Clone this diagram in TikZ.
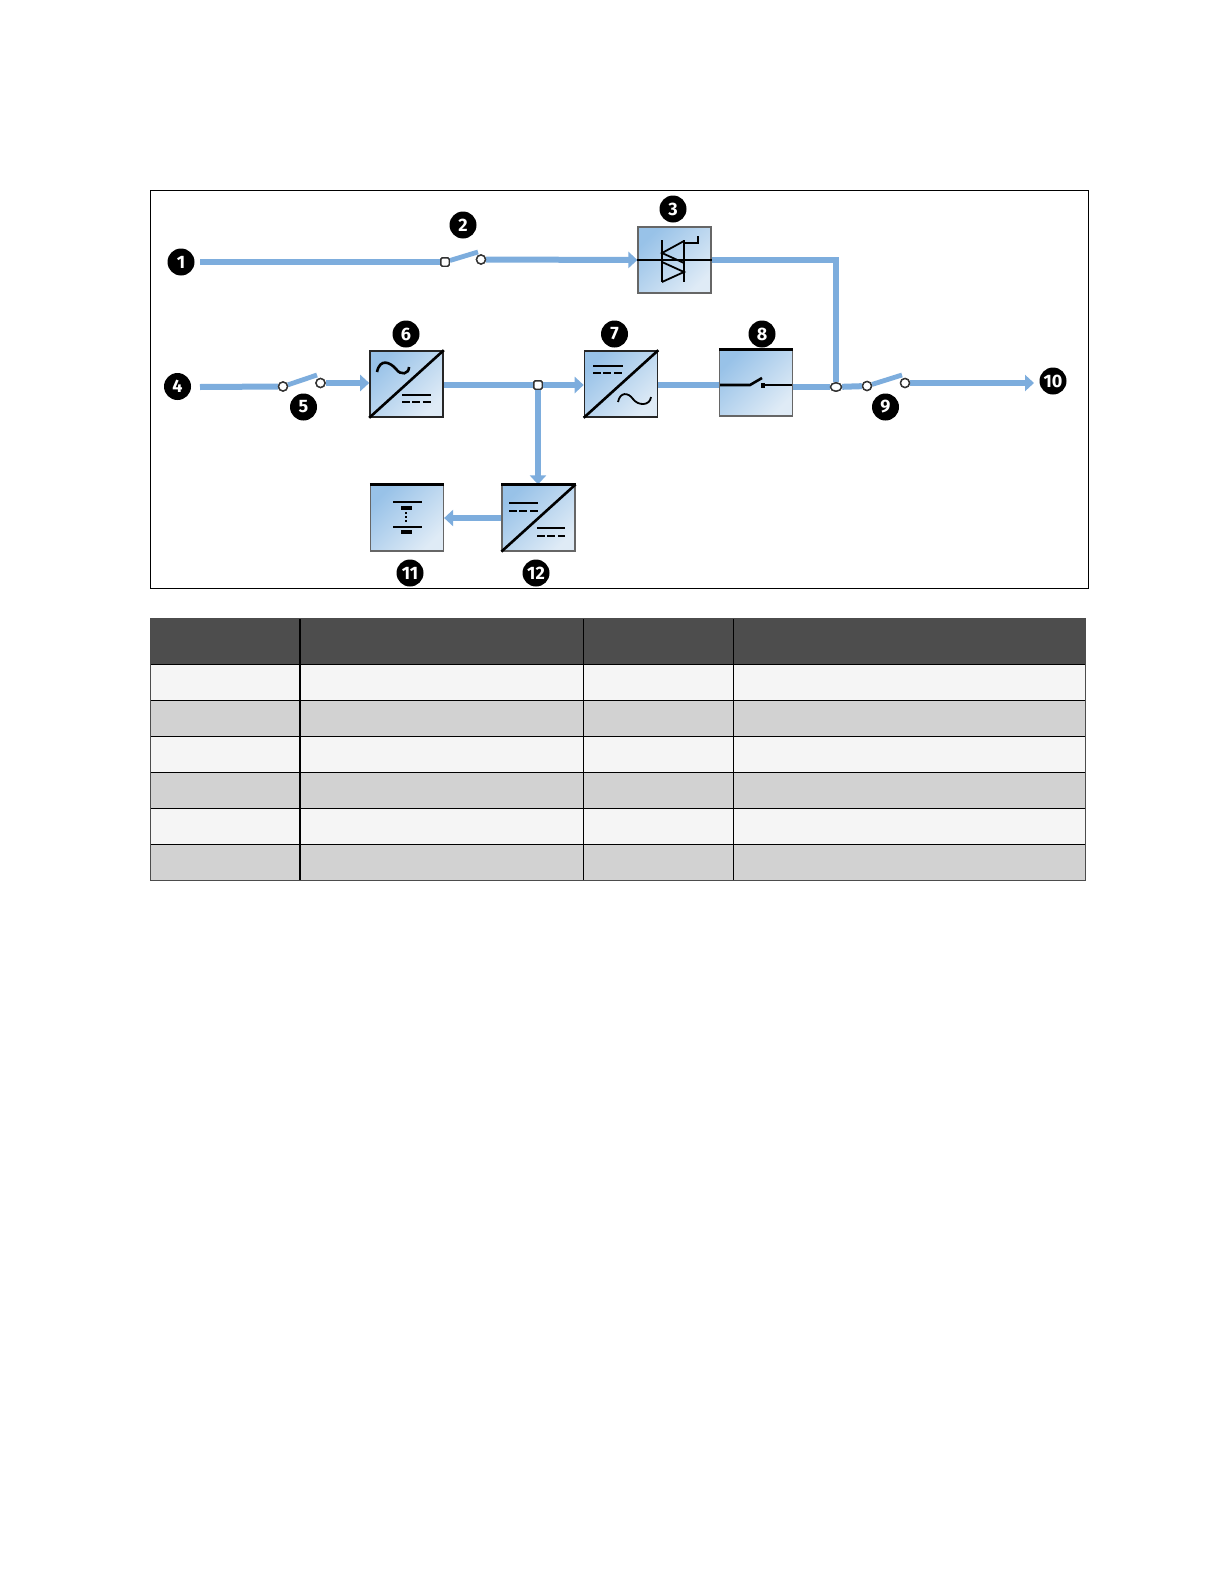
\documentclass[tikz,border=0pt]{standalone}
\usepackage{fontspec}
\setmainfont{Fira Sans}
\usepackage{xcolor}
\usetikzlibrary{arrows.meta, positioning, shapes.geometric}
\definecolor{wire}{HTML}{7DADDD}
\definecolor{boxdark}{HTML}{98C2E8}
\definecolor{boxlight}{HTML}{DFEBF6}
\definecolor{headgrey}{HTML}{4D4D4D}
\definecolor{rowlight}{HTML}{F5F5F5}
\definecolor{rowgrey}{HTML}{D2D2D2}
\tikzset{
  badge/.style={circle,fill=black,text=white,inner sep=0pt,minimum size=13.5pt,font=\fontsize{9}{9}\selectfont\bfseries},
  unit/.style={rectangle,draw=black!85,line width=0.8pt,top color=boxdark,bottom color=boxlight,shading angle=45,inner sep=0pt,minimum width=36.5pt,minimum height=33pt},
  softunit/.style={unit,draw=black!60,line width=0.6pt},
  terminal/.style={circle,draw=black!80,fill=white,line width=0.7pt,inner sep=0pt,minimum size=4.5pt},
  junction/.style={rectangle,rounded corners=0.8pt,draw=black!80,fill=white,line width=0.7pt,inner sep=0pt,minimum size=4.2pt},
  oval/.style={ellipse,draw=black!80,fill=white,line width=0.7pt,inner sep=0pt,minimum width=5.5pt,minimum height=4.2pt},
  power/.style={wire,line width=3pt},
  feed/.style={power,-{Triangle[length=4.5pt,width=8pt]}},
  blade/.style={wire,line width=2.4pt},
  icon/.style={black,line width=0.9pt},
  iconthick/.style={black,line width=1.3pt}
}
\begin{document}
\begin{tikzpicture}[x=0.5pt,y=-0.5pt]
  \useasboundingbox (0,0) rectangle (1224,1584);
  \fill[white] (0,0) rectangle (1224,1584);
  \draw[black,line width=0.8pt] (150.5,190.5) rectangle (1088.5,588.5);
  % table
  \fill[headgrey] (150,618) rectangle (1085.5,664);
  \fill[rowlight] (150,664) rectangle (1085.5,700);
  \fill[rowgrey]  (150,700) rectangle (1085.5,736);
  \fill[rowlight] (150,736) rectangle (1085.5,772);
  \fill[rowgrey]  (150,772) rectangle (1085.5,808);
  \fill[rowlight] (150,808) rectangle (1085.5,844);
  \fill[rowgrey]  (150,844) rectangle (1085.5,880);
  \draw[black,line width=0.5pt] (150,664)--(1085.5,664);
  \draw[black,line width=0.5pt] (150,700)--(1085.5,700);
  \draw[black,line width=0.5pt] (150,736)--(1085.5,736);
  \draw[black,line width=0.5pt] (150,772)--(1085.5,772);
  \draw[black,line width=0.5pt] (150,808)--(1085.5,808);
  \draw[black,line width=0.5pt] (150,844)--(1085.5,844);
  \draw[black,line width=0.7pt] (300,618)--(300,880);
  \draw[black,line width=0.3pt] (583.5,618)--(583.5,880);
  \draw[black,line width=0.3pt] (733,618)--(733,880);
  \draw[black!70,line width=0.5pt] (150,618) rectangle (1085.5,880);
  % units
  \node[softunit] (triac) at (674.5,260) {};
  \node[unit] (rectifier) at (406.5,384) {};
  \node[unit] (inverter) at (621,384) {};
  \node[softunit] (static) at (756,383) {};
  \node[softunit] (battery) at (407,518) {};
  \node[softunit] (charger) at (538.5,518) {};
  % terminals
  \node[junction] (t2a) at (445,262) {};
  \node[terminal] (t2b) at (481,259.5) {};
  \node[terminal] (t5a) at (283,386.5) {};
  \node[terminal] (t5b) at (320.5,383) {};
  \node[junction] (tdc) at (538,385) {};
  \node[oval] (tout) at (836,387) {};
  \node[terminal] (t9a) at (867,386) {};
  \node[terminal] (t9b) at (905,383) {};
  \coordinate (in1) at (200,262);
  \coordinate (in4) at (200,387);
  \coordinate (out) at (1034,383);
  \coordinate (bend) at (836,260);
  \coordinate (b2) at (478,252);
  \coordinate (b5) at (317,375);
  \coordinate (b9) at (902,375);
  % wires
  \draw[power] (in1) -- (t2a);
  \draw[blade] (t2a) -- (b2);
  \draw[feed] (t2b) -- (triac.west);
  \draw[power] (triac.east) -- (bend) -- (tout);
  \draw[power] (in4) -- (t5a);
  \draw[blade] (t5a) -- (b5);
  \draw[feed] (t5b) -- (t5b-|rectifier.west);
  \draw[power] (tdc-|rectifier.east) -- (tdc);
  \draw[feed] (tdc) -- (tdc-|inverter.west);
  \draw[power] (tdc-|inverter.east) -- (tdc-|static.west);
  \draw[power] (tout-|static.east) -- (tout);
  \draw[power] (tout) -- (t9a);
  \draw[blade] (t9a) -- (b9);
  \draw[feed] (t9b) -- (out);
  \draw[feed] (tdc) -- (charger.north-|tdc);
  \draw[feed] (charger.west|-battery.east) -- (battery.east);
  \node[junction] at (tdc) {};
  \node[oval] at (tout) {};
  \node[junction] at (t2a) {};
  \node[terminal] at (t2b) {};
  \node[terminal] at (t5a) {};
  \node[terminal] at (t5b) {};
  \node[terminal] at (t9a) {};
  \node[terminal] at (t9b) {};
  % thick top edges
  \draw[iconthick] (static.north west)--(static.north east);
  \draw[iconthick] (battery.north west)--(battery.north east);
  \draw[iconthick] (charger.north west)--(charger.north east);
  % triac icon
  \draw[iconthick] (triac.west)--(triac.east);
  \draw[icon] (662,240)--(662,282);
  \draw[icon] (684,240)--(684,282);
  \draw[icon] (684,241)--(662,253)--(684,263);
  \draw[icon] (662,262)--(684,272)--(662,282);
  \draw[icon] (684,243)--(698,243)--(698,236);
  % rectifier icon
  \draw[iconthick] (rectifier.south west)--(rectifier.north east);
  \draw[iconthick] (377,372) .. controls (380,358) and (390,362) .. (396,369) .. controls (401,376) and (409,374) .. (409,367);
  \draw[icon] (402,395)--(431,395);
  \draw[iconthick,dash pattern=on 4pt off 1.2pt] (402,402)--(431,402);
  % inverter icon
  \draw[iconthick] (inverter.south west)--(inverter.north east);
  \draw[iconthick] (593,366)--(623,366);
  \draw[icon,dash pattern=on 4pt off 1.2pt] (593,373)--(623,373);
  \draw[icon] (618,402) .. controls (620,392) and (628,392) .. (633,399) .. controls (638,406) and (650,406) .. (651,397);
  % static switch icon
  \draw[iconthick] (720,385)--(750,385)--(762,378);
  \draw[iconthick] (763,385)--(792,385);
  \fill[black] (760.5,382.5) rectangle (765,387.5);
  % battery icon
  \draw[iconthick] (393,502)--(422,502);
  \draw[black,line width=1.6pt] (401,508)--(412,508);
  \draw[black,line width=1pt,densely dotted] (406,512)--(406,524);
  \draw[icon] (393,527)--(422,527);
  \draw[black,line width=1.6pt] (401,532)--(412,532);
  % charger icon
  \draw[iconthick] (charger.south west)--(charger.north east);
  \draw[iconthick] (509,503)--(538,503);
  \draw[iconthick,dash pattern=on 4pt off 1.2pt] (509,511)--(538,511);
  \draw[icon] (537,528)--(565,528);
  \draw[iconthick,dash pattern=on 4pt off 1.2pt] (537,536)--(565,536);
  % badges
  \node[badge] (n1) at (181,262) {1};
  \node[badge] (n2) at (463,225) {2};
  \node[badge] (n3) at (673,209) {3};
  \node[badge] (n4) at (177.5,386.5) {4};
  \node[badge] (n5) at (303.5,407) {5};
  \node[badge] (n6) at (406,334) {6};
  \node[badge] (n7) at (614.5,334) {7};
  \node[badge] (n8) at (762,334) {8};
  \node[badge] (n9) at (885.5,407) {9};
  \node[badge] (n10) at (1053,381) {10};
  \node[badge] (n11) at (410,573) {11};
  \node[badge] (n12) at (536,573) {12};
\end{tikzpicture}
\end{document}
